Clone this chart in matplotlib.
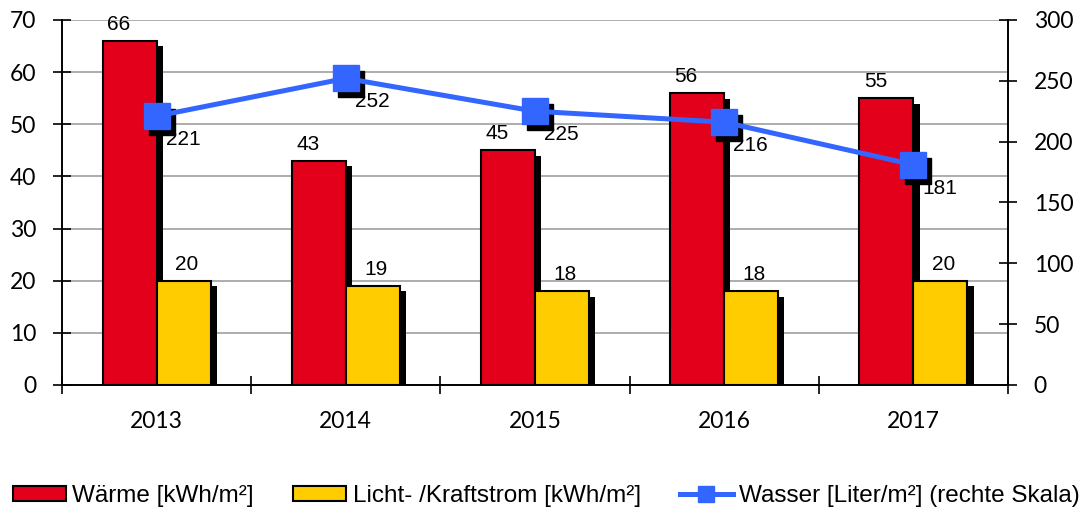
import matplotlib
matplotlib.use("Agg")
import matplotlib.pyplot as plt
import matplotlib.patheffects as pe
from matplotlib.transforms import ScaledTranslation
from matplotlib.lines import Line2D
from matplotlib.patches import Patch
import numpy as np

years = ["2013", "2014", "2015", "2016", "2017"]
waerme = [66, 43, 45, 56, 55]
strom = [20, 19, 18, 18, 20]
wasser = [221, 252, 225, 216, 181]

RED = "#E2001A"
YEL = "#FFCC00"
BLUE = "#3366FF"
LBL_FONT = "Liberation Sans"
TICK_FONT = "Lato"

fig = plt.figure(figsize=(10.82, 5.11), dpi=100)
ax = fig.add_axes([0.0573, 0.2466, 0.9316 - 0.0573, 0.9609 - 0.2466])
ax2 = ax.twinx()

x = np.arange(len(years))
w = 0.285
shadow = [pe.SimplePatchShadow(offset=(4.5, -4), shadow_rgbFace="black", alpha=1.0), pe.Normal()]
b1 = ax.bar(x, waerme, width=-w, align="edge", color=RED, edgecolor="black", linewidth=1.5, zorder=3)
b2 = ax.bar(x, strom, width=w, align="edge", color=YEL, edgecolor="black", linewidth=1.5, zorder=3)
for b in list(b1) + list(b2):
    b.set_path_effects(shadow)

for xi, v in zip(x, waerme):
    ax.annotate(str(v), (xi - w / 2, v), xytext=(-8, 5), textcoords="offset points",
                ha="center", va="bottom", fontsize=15, family=LBL_FONT, zorder=5)
for xi, v in zip(x, strom):
    ax.annotate(str(v), (xi + w / 2, v), xytext=(2, 5), textcoords="offset points",
                ha="center", va="bottom", fontsize=15, family=LBL_FONT, zorder=5)

ax.set_xlim(-0.5, len(years) - 0.5)
ax.set_ylim(0, 70)
ax.set_yticks(np.arange(0, 71, 10))
ax.yaxis.grid(True, color="#A0A0A0", linewidth=1.2, zorder=0)
ax.set_axisbelow(True)
ax.set_xticks(x)
ax.set_xticklabels(years, family=TICK_FONT, fontsize=16.5)
ax.set_xticks(np.arange(-0.5, len(years), 1.0), minor=True)
ax.tick_params(axis="x", which="major", length=0, pad=19)
ax.tick_params(axis="x", which="minor", length=13, direction="inout", width=1.2)
ax.tick_params(axis="y", length=13, direction="inout", width=1.2, labelsize=16.5, pad=12)
for lbl in ax.get_yticklabels():
    lbl.set_family(TICK_FONT)

ax2.set_ylim(0, 300)
ax2.set_yticks(np.arange(0, 301, 50))
ax2.tick_params(axis="y", length=13, direction="inout", width=1.2, labelsize=16.5, pad=12)
for lbl in ax2.get_yticklabels():
    lbl.set_family(TICK_FONT)

for a in (ax, ax2):
    a.spines["top"].set_visible(False)
    for s in ("left", "right", "bottom"):
        a.spines[s].set_linewidth(1.2)
        a.spines[s].set_color("black")

off = ax2.transData + ScaledTranslation(5 / 100, -6 / 100, fig.dpi_scale_trans)
ax2.plot(x, wasser, linestyle="none", marker="s", markersize=19, color="black", transform=off, zorder=4)
ax2.plot(x, wasser, color=BLUE, linewidth=3.6, marker="s", markersize=19, zorder=5)
for xi, v in zip(x, wasser):
    ax2.annotate(str(v), (xi, v), xytext=(6.5, -17), textcoords="offset points",
                 ha="left", va="center", fontsize=15, family=LBL_FONT, zorder=6)

handles = [
    Patch(facecolor=RED, edgecolor="black", linewidth=1.5),
    Patch(facecolor=YEL, edgecolor="black", linewidth=1.5),
    Line2D([0], [0], color=BLUE, linewidth=3.6, marker="s", markersize=11),
]
labels = ["Wärme [kWh/m²]", "Licht- /Kraftstrom [kWh/m²]", "Wasser [Liter/m²] (rechte Skala)"]
fig.legend(handles, labels, loc="center", bbox_to_anchor=(0.505, 0.029), ncol=3, frameon=False,
           prop={"family": LBL_FONT, "size": 17.5}, handlelength=2.2, handleheight=0.55,
           handletextpad=0.25, columnspacing=1.6, borderpad=0.2)

fig.savefig("out.png", dpi=100)
